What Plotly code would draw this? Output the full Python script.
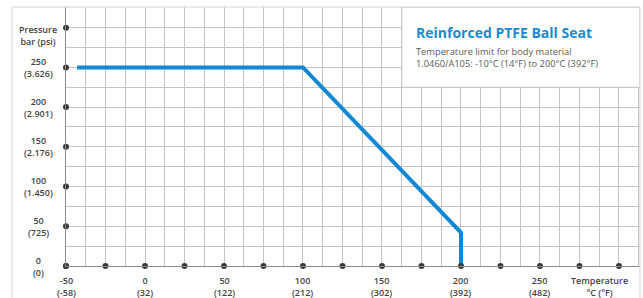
import plotly.graph_objects as go

# Data
temp_c = [-43, 100, 200, 200]
pressure_bar = [250, 250, 42, 0]

x_ticks = [-50, 0, 50, 100, 150, 200, 250]
x_tick_f = ["(-58)", "(32)", "(122)", "(212)", "(302)", "(392)", "(482)"]
x_dots = [-50, -25, 0, 25, 50, 75, 100, 125, 150, 175, 200, 225, 250, 275, 300]

y_ticks = [0, 50, 100, 150, 200, 250]
y_tick_psi = ["(0)", "(725)", "(1.450)", "(2.176)", "(2.901)", "(3.626)"]
y_dots = [0, 50, 100, 150, 200, 250, 300]

title_text = "Reinforced PTFE Ball Seat"
subtitle_text = "Temperature limit for body material<br>1.0460/A105: -10°C (14°F) to 200°C (392°F)"

W, H = 643, 298
ML, MR, MT, MB = 66, 3, 7, 32
XR = [-50, 313.3]
YR = [0, 326]

FONT = "Open Sans"
LBL = "#444444"
GRID = "#c4c4c4"

fig = go.Figure()

fig.add_trace(go.Scatter(x=temp_c, y=pressure_bar, mode="lines",
                         line=dict(color="#1088d4", width=4), hoverinfo="skip"))

fig.add_trace(go.Scatter(x=x_dots, y=[0] * len(x_dots), mode="markers",
                         marker=dict(color="#3a3a3a", size=6), cliponaxis=False))
fig.add_trace(go.Scatter(x=[-50] * len(y_dots), y=y_dots, mode="markers",
                         marker=dict(color="#3a3a3a", size=6), cliponaxis=False))

# white box behind legend text
fig.add_shape(type="rect", xref="x", yref="y", x0=162.5, x1=XR[1], y0=225, y1=YR[1],
              fillcolor="white", line=dict(color=GRID, width=1), layer="above")

# outer frame
fig.add_shape(type="rect", xref="paper", yref="paper",
              x0=(12 - ML) / (W - ML - MR), x1=1, y0=-0.3, y1=1,
              line=dict(color="#d4d4d4", width=1), fillcolor="rgba(0,0,0,0)", layer="above")

lbl_font = dict(family=FONT, size=9, color=LBL, weight=600)
ann = []
for v, f in zip(x_ticks, x_tick_f):
    ann.append(dict(x=v, y=0, xref="x", yref="y", text=f"{v}<br>{f}", showarrow=False,
                    xanchor="center", yanchor="top", yshift=-6, align="center", font=lbl_font))
ann.append(dict(x=287.5, y=0, xref="x", yref="y", text="Temperature<br>°C (°F)", showarrow=False,
                xanchor="center", yanchor="top", yshift=-6, align="center", font=lbl_font))
lx = (38 - ML) / (W - ML - MR)
for v, p in zip(y_ticks, y_tick_psi):
    ann.append(dict(x=lx, y=v, xref="paper", yref="y", text=f"{v}<br>{p}", showarrow=False,
                    xanchor="center", yanchor="middle", align="center", font=lbl_font))
ann.append(dict(x=lx, y=300, xref="paper", yref="y", text="Pressure<br>bar (psi)", showarrow=False,
                xanchor="center", yanchor="top", yshift=7, align="center", font=lbl_font))
ann.append(dict(x=170.5, y=294, xref="x", yref="y", text=f"<b>{title_text}</b>", showarrow=False,
                xanchor="left", yanchor="middle",
                font=dict(family=FONT, size=14, color="#1a8ad2")))
ann.append(dict(x=170.5, y=263, xref="x", yref="y", text=subtitle_text, showarrow=False,
                xanchor="left", yanchor="middle", align="left",
                font=dict(family=FONT, size=9.3, color="#5a5a5a")))

fig.update_layout(
    width=W, height=H, margin=dict(l=ML, r=MR, t=MT, b=MB),
    paper_bgcolor="white", plot_bgcolor="white", showlegend=False,
    annotations=ann,
    xaxis=dict(range=XR, dtick=12.5, tick0=-50, showticklabels=False, ticks="",
               showgrid=True, gridcolor=GRID, gridwidth=1, zeroline=False,
               showline=True, linecolor="#8a8a8a", linewidth=1, fixedrange=True),
    yaxis=dict(range=YR, dtick=25, tick0=0, showticklabels=False, ticks="",
               showgrid=True, gridcolor=GRID, gridwidth=1, zeroline=False,
               showline=True, linecolor="#8a8a8a", linewidth=1, fixedrange=True),
)

fig.write_html("out.html", config={"displayModeBar": False},
               post_script="document.body.style.margin='0';document.body.style.padding='0';")
